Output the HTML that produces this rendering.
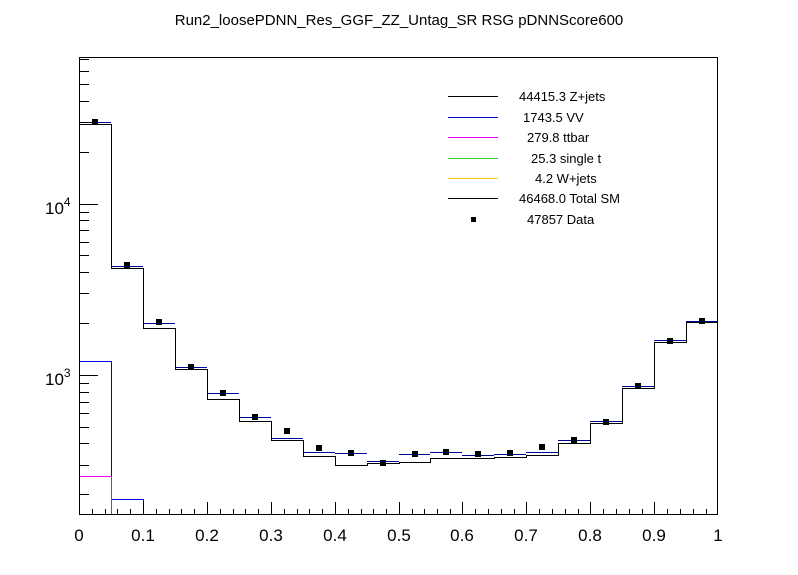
<!DOCTYPE html>
<html><head><meta charset="utf-8"><style>
html,body{margin:0;padding:0;background:#fff;}
svg{display:block;font-family:"Liberation Sans",sans-serif;}
</style></head><body>
<svg width="798" height="575" viewBox="0 0 798 575" xmlns="http://www.w3.org/2000/svg" shape-rendering="crispEdges">
<rect width="798" height="575" fill="#fff"/>
<text x="399" y="25" font-size="15" text-anchor="middle">Run2_loosePDNN_Res_GGF_ZZ_Untag_SR RSG  pDNNScore600</text>
<path d="M79.5,515 V361.5 H111.5 V499.5 H143.5 V515" fill="none" stroke="#0000ee" stroke-width="1"/>
<path d="M79.5,476.5 H111.5 V515" fill="none" stroke="#ee00ee" stroke-width="1"/>
<line x1="79" y1="514.5" x2="718" y2="514.5" stroke="#ffcc00" stroke-width="1"/>
<line x1="686" y1="514.5" x2="718" y2="514.5" stroke="#000" stroke-width="1"/>
<g stroke="#000099" stroke-width="1">
<line x1="79" y1="122.5" x2="111" y2="122.5"/>
<line x1="111" y1="266.5" x2="143" y2="266.5"/>
<line x1="143" y1="323.5" x2="175" y2="323.5"/>
<line x1="175" y1="367.5" x2="207" y2="367.5"/>
<line x1="207" y1="393.5" x2="239" y2="393.5"/>
<line x1="239" y1="417.5" x2="271" y2="417.5"/>
<line x1="271" y1="438.5" x2="303" y2="438.5"/>
<line x1="303" y1="452.5" x2="335" y2="452.5"/>
<line x1="335" y1="453.5" x2="367" y2="453.5"/>
<line x1="367" y1="461.5" x2="399" y2="461.5"/>
<line x1="399" y1="454.5" x2="430" y2="454.5"/>
<line x1="430" y1="452.5" x2="462" y2="452.5"/>
<line x1="462" y1="455.5" x2="494" y2="455.5"/>
<line x1="494" y1="454.5" x2="526" y2="454.5"/>
<line x1="526" y1="452.5" x2="558" y2="452.5"/>
<line x1="558" y1="440.5" x2="590" y2="440.5"/>
<line x1="590" y1="421.5" x2="622" y2="421.5"/>
<line x1="622" y1="386.5" x2="654" y2="386.5"/>
<line x1="654" y1="340.5" x2="686" y2="340.5"/>
<line x1="686" y1="321.5" x2="718" y2="321.5"/>
</g>
<path d="M79,124.5 H111.5 V268.5 H143.5 V328.5 H175.5 V369.5 H207.5 V399.5 H239.5 V421.5 H271.5 V440.5 H303.5 V456.5 H335.5 V465.5 H367.5 V463.5 H399.5 V462.5 H430.5 V458.5 H462.5 V458.5 H494.5 V457.5 H526.5 V455.5 H558.5 V443.5 H590.5 V423.5 H622.5 V388.5 H654.5 V342.5 H686.5 V322.5 H718" fill="none" stroke="#000" stroke-width="1"/>
<g fill="#000">
<rect x="92" y="119" width="6" height="6"/><rect x="124" y="262" width="6" height="6"/>
<rect x="156" y="319" width="6" height="6"/><rect x="188" y="364" width="6" height="6"/>
<rect x="220" y="390" width="6" height="6"/><rect x="252" y="414" width="6" height="6"/>
<rect x="284" y="428" width="6" height="6"/><rect x="316" y="445" width="6" height="6"/>
<rect x="348" y="450" width="6" height="6"/><rect x="380" y="460" width="6" height="6"/>
<rect x="412" y="451" width="6" height="6"/><rect x="443" y="449" width="6" height="6"/>
<rect x="475" y="451" width="6" height="6"/><rect x="507" y="450" width="6" height="6"/>
<rect x="539" y="444" width="6" height="6"/><rect x="571" y="437" width="6" height="6"/>
<rect x="603" y="419" width="6" height="6"/><rect x="635" y="383" width="6" height="6"/>
<rect x="667" y="338" width="6" height="6"/><rect x="699" y="318" width="6" height="6"/>
</g>
<rect x="79.5" y="57.5" width="638" height="457" fill="none" stroke="#000" stroke-width="1"/>
<g stroke="#000" stroke-width="1">
<path d="M79.5,515v-13M143.5,515v-13M207.5,515v-13M271.5,515v-13M335.5,515v-13M399.5,515v-13M462.5,515v-13M526.5,515v-13M590.5,515v-13M654.5,515v-13M717.5,515v-13"/>
<path d="M92.5,515v-6M105.5,515v-6M117.5,515v-6M130.5,515v-6M156.5,515v-6M169.5,515v-6M181.5,515v-6M194.5,515v-6M220.5,515v-6M233.5,515v-6M245.5,515v-6M258.5,515v-6M284.5,515v-6M297.5,515v-6M309.5,515v-6M322.5,515v-6M348.5,515v-6M361.5,515v-6M373.5,515v-6M386.5,515v-6M412.5,515v-6M424.5,515v-6M437.5,515v-6M450.5,515v-6M475.5,515v-6M488.5,515v-6M501.5,515v-6M514.5,515v-6M539.5,515v-6M552.5,515v-6M565.5,515v-6M578.5,515v-6M603.5,515v-6M616.5,515v-6M629.5,515v-6M642.5,515v-6M667.5,515v-6M680.5,515v-6M693.5,515v-6M706.5,515v-6"/>
<path d="M79,204.5h19M79,375.5h19"/>
<path d="M79,494.5h10M79,465.5h10M79,443.5h10M79,427.5h10M79,413.5h10M79,402.5h10M79,392.5h10M79,383.5h10
M79,323.5h10M79,293.5h10M79,272.5h10M79,255.5h10M79,242.5h10M79,230.5h10M79,220.5h10M79,212.5h10
M79,152.5h10M79,122.5h10M79,101.5h10M79,84.5h10M79,71.5h10M79,59.5h10"/>
</g>
<g font-size="17" text-anchor="middle">
<text x="79" y="541">0</text><text x="143" y="541">0.1</text><text x="207" y="541">0.2</text>
<text x="271" y="541">0.3</text><text x="335" y="541">0.4</text><text x="399" y="541">0.5</text>
<text x="462" y="541">0.6</text><text x="526" y="541">0.7</text><text x="590" y="541">0.8</text>
<text x="654" y="541">0.9</text><text x="718" y="541">1</text>
</g>
<text x="45" y="214" font-size="17">10<tspan dy="-8" font-size="12">4</tspan></text>
<text x="45" y="385" font-size="17">10<tspan dy="-8" font-size="12">3</tspan></text>
<g stroke-width="1">
<line x1="448" y1="96.5" x2="498" y2="96.5" stroke="#000"/>
<line x1="448" y1="117.5" x2="498" y2="117.5" stroke="#0000cc"/>
<line x1="448" y1="137.5" x2="498" y2="137.5" stroke="#ee00ee"/>
<line x1="448" y1="158.5" x2="498" y2="158.5" stroke="#33cc33"/>
<line x1="448" y1="178.5" x2="498" y2="178.5" stroke="#ffcc00"/>
<line x1="448" y1="198.5" x2="498" y2="198.5" stroke="#000"/>
</g>
<rect x="471" y="217" width="5" height="5" fill="#000"/>
<g font-size="13">
<text x="519" y="101">44415.3 Z+jets</text>
<text x="523" y="122">1743.5 VV</text>
<text x="527" y="142">279.8 ttbar</text>
<text x="531" y="163">25.3 single t</text>
<text x="535" y="183">4.2 W+jets</text>
<text x="519" y="203">46468.0 Total SM</text>
<text x="527" y="224">47857 Data</text>
</g>
</svg>
</body></html>
